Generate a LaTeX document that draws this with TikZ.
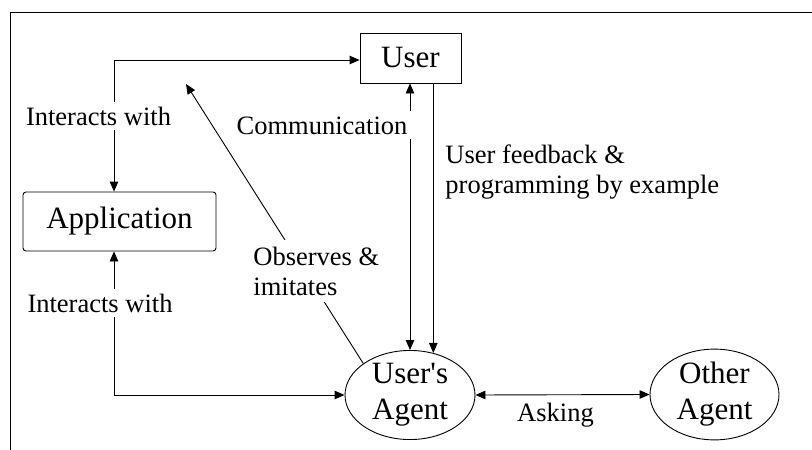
\documentclass[tikz,border=0pt]{standalone}
\usepackage{fontspec}
\setmainfont{Liberation Serif}
\usetikzlibrary{arrows.meta,shapes.geometric}
\begin{document}
\begin{tikzpicture}[x=1pt,y=-1pt,
  line width=0.9pt,
  >={Triangle[length=10pt,width=8.5pt]},
  big/.style={font=\fontsize{31}{36}\selectfont},
  small/.style={font=\fontsize{26.5}{30}\selectfont},
  lbl/.style={small,fill=white,inner sep=5pt},
  boxnode/.style={draw,big,inner sep=0pt},
  agentnode/.style={draw,ellipse,big,inner sep=0pt,minimum width=130pt,minimum height=84pt,align=center}]
\useasboundingbox (0,0) rectangle (812,450);
\draw (10,450) -- (10,12) -- (812,12);
\node[boxnode,minimum width=101pt,minimum height=50pt] (user) at (410.5,58) {User};
\node[boxnode,rounded corners=3pt,minimum width=193pt,minimum height=59pt] (app) at (119.5,221.5) {Application};
\node[agentnode] (uagent) at (410,395) {User\textquotesingle s\\Agent};
\node[agentnode,minimum width=129pt] (oagent) at (714.5,394.5) {Other\\Agent};
\coordinate (c1) at (114,60);
\coordinate (c2) at (114,395);
\coordinate (tip) at (186,84);
\draw[->] (c1) -- (c1 -| user.west);
\draw[->] (c1) -- (c1 |- app.north);
\draw[->] (c2) -- (c2 |- app.south);
\draw[->] (c2) -- (uagent.west);
\draw[<->] (uagent.north |- user.south) -- (uagent.north);
\draw[->] (uagent.61 |- user.south) -- (uagent.61);
\draw[->] (uagent.146) -- (tip);
\draw[<->] (uagent.east) -- (oagent.west);
\node[lbl,anchor=base] (iw1) at (98.5,125) {Interacts with};
\node[lbl,anchor=base] (iw2) at (100,312) {Interacts with};
\node[lbl,anchor=base] (comm) at (322,134) {Communication};
\node[small,anchor=base west,align=left,inner sep=0pt] (fb) at (445,193) {User feedback \&\\programming by example};
\node[lbl,anchor=base west,align=left,inner sep=7pt] (obs) at (246,295) {Observes \&\\imitates};
\node[small,anchor=base] (ask) at (555.5,421.7) {Asking};
\end{tikzpicture}
\end{document}
